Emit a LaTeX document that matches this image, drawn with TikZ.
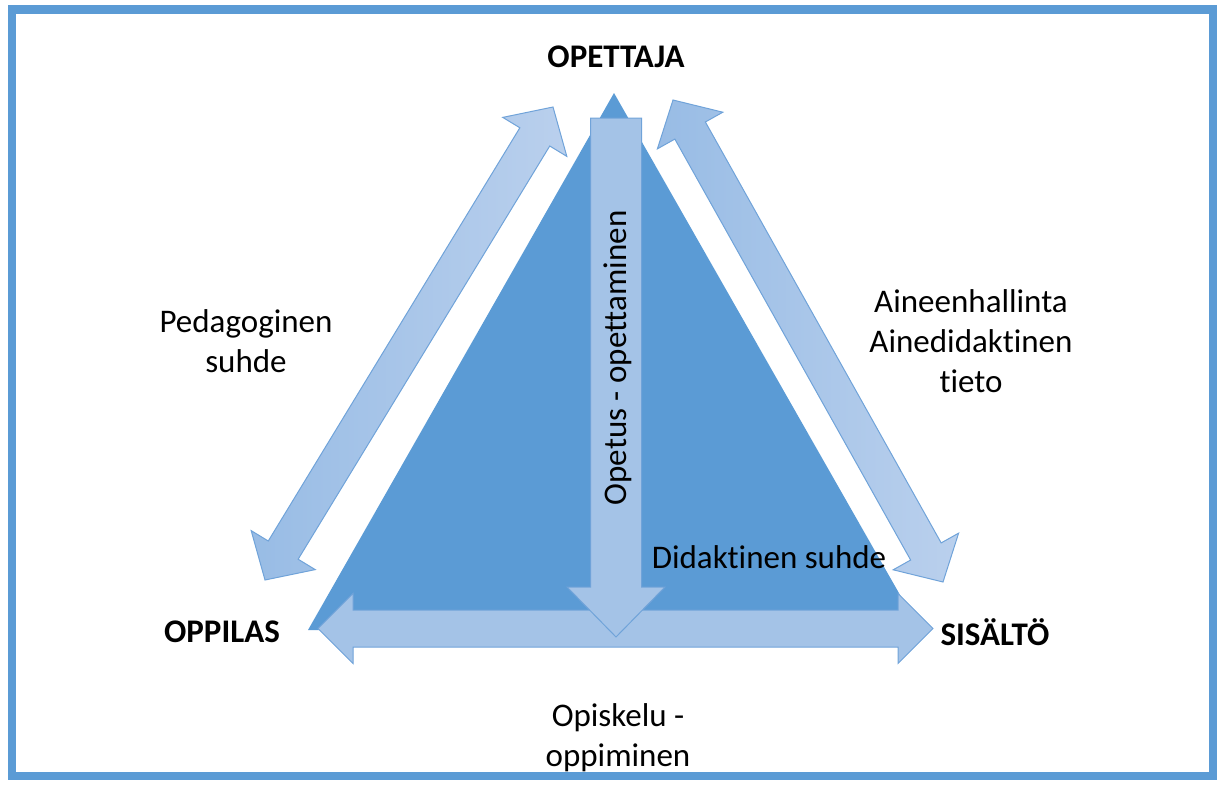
\documentclass[tikz,border=0pt]{standalone}
\usepackage{fontspec}
\setmainfont[Ligatures=NoCommon]{Carlito}
\usetikzlibrary{calc}
\definecolor{frameblue}{RGB}{91,155,213}
\definecolor{arrowfill}{RGB}{164,195,231}
\definecolor{arrowlight}{RGB}{186,208,237}
\definecolor{arrowdark}{RGB}{152,188,229}
\definecolor{arrowedge}{RGB}{112,163,217}

% two-headed block arrow: [style] tip, tip, shaft half width, head half width, head length
\newcommand\blockarrow[6][]{%
  \path[#1] (#2)
    -- ($(#2)!#6!(#3)!#5!90:(#3)$) -- ($(#2)!#6!(#3)!#4!90:(#3)$)
    -- ($(#3)!#6!(#2)!#4!-90:(#2)$) -- ($(#3)!#6!(#2)!#5!-90:(#2)$)
    -- (#3)
    -- ($(#3)!#6!(#2)!#5!90:(#2)$) -- ($(#3)!#6!(#2)!#4!90:(#2)$)
    -- ($(#2)!#6!(#3)!#4!-90:(#3)$) -- ($(#2)!#6!(#3)!#5!-90:(#3)$)
    -- cycle;}

\begin{document}
\begin{tikzpicture}[
  x=1pt, y=-1pt,
  lbl/.style={font=\fontsize{33}{40}\selectfont, align=center, inner sep=0pt},
  corner/.style={lbl, font=\fontsize{33}{40}\selectfont\bfseries},
  blockarr/.style={draw=arrowedge, line width=1pt, fill=arrowfill, line join=miter},
  shadearr/.style={draw=arrowedge, line width=1pt, left color=arrowdark, right color=arrowlight},
]
\useasboundingbox (0,0) rectangle (1225,784);
% frame
\draw[frameblue, line width=8.5pt] (12,9.5) rectangle (1213,776);
% triangle
\fill[frameblue] (614,93) coordinate (apex) -- (920,630) coordinate (right)
  -- (308,630) coordinate (left) -- cycle;
% corner labels
\node[corner] (opettaja) at (616,57) {OPETTAJA};
\node[corner] (oppilas) at (222,632) {OPPILAS};
\node[corner] (sisalto) at (995,632) {SISÄLTÖ};
% arrow end points
\coordinate (pedTop) at (553,107);
\coordinate (pedBot) at (265,580);
\coordinate (aineTop) at (673,100);
\coordinate (aineBot) at (943,582);
\coordinate (opisL) at (318,628.5);
\coordinate (opisR) at (933,628.5);
\coordinate (opetTop) at (616,118);
\coordinate (opetTip) at (616,637);
% side and bottom arrows
\blockarrow[shadearr]{pedBot}{pedTop}{17.5pt}{37.5pt}{35pt}
\blockarrow[shadearr]{aineTop}{aineBot}{17.5pt}{37.5pt}{35pt}
\blockarrow[blockarr]{opisL}{opisR}{18.5pt}{35pt}{35pt}
% down arrow
\path[blockarr] ($(opetTop)+(-25.5,0)$) -- ($(opetTop)+(25.5,0)$)
  -- ($(opetTip)+(25.5,-50)$) -- ($(opetTip)+(49,-50)$) -- (opetTip)
  -- ($(opetTip)+(-49,-50)$) -- ($(opetTip)+(-25.5,-50)$) -- cycle;
% relation labels
\node[lbl] (pedagoginen) at (246,341) {Pedagoginen\\suhde};
\node[lbl] (aine) at (971,341) {Aineenhallinta\\Ainedidaktinen\\tieto};
\node[lbl] (didaktinen) at (769,557) {Didaktinen suhde};
\node[lbl, rotate=90] (opetus) at (618,358) {Opetus - opettaminen};
\node[lbl] (opiskelu) at (618,738) {Opiskelu -\\oppiminen};
\end{tikzpicture}
\end{document}
